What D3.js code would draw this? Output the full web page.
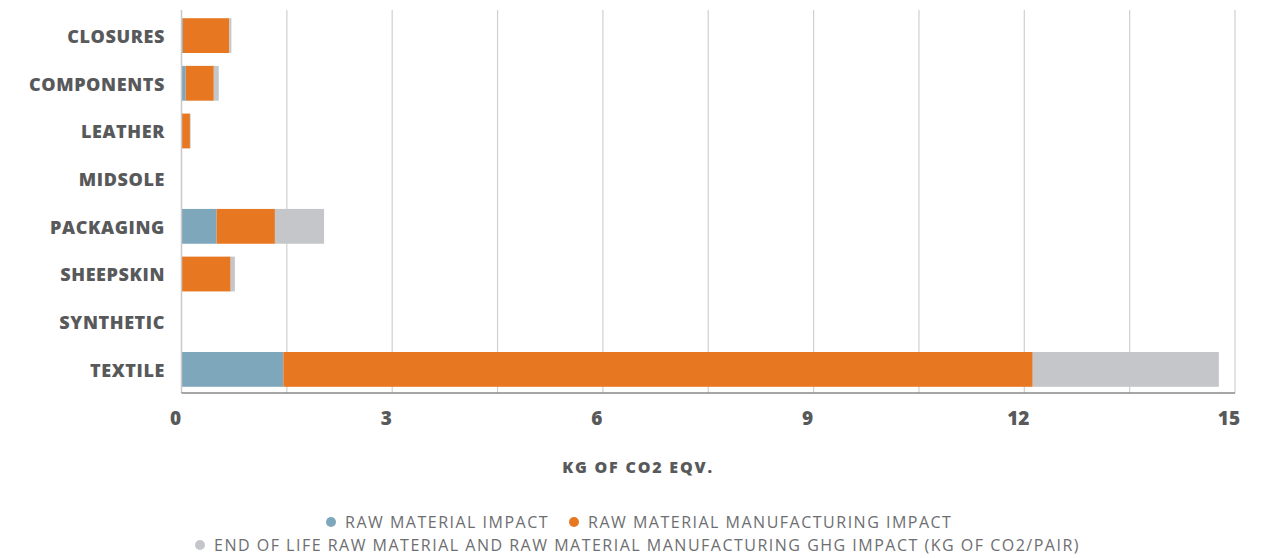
<!DOCTYPE html>
<meta charset="utf-8">
<style>
body { margin: 0; background: #fff; }
text { font-family: "Open Sans", sans-serif; }
.cat { font-weight: 800; font-size: 18px; fill: #58595b; letter-spacing: 0.6px; }
.tick-lab { font-weight: 800; font-size: 19px; fill: #58595b; }
.title { font-weight: 800; font-size: 16px; fill: #58595b; letter-spacing: 1.8px; }
.leg { font-size: 16px; fill: #6d6e71; letter-spacing: 1.5px; }
</style>
<svg width="1268" height="558"></svg>
<script src="https://d3js.org/d3.v7.min.js"></script>
<script>

var categories = ["CLOSURES", "COMPONENTS", "LEATHER", "MIDSOLE", "PACKAGING", "SHEEPSKIN", "SYNTHETIC", "TEXTILE"];
var rawMaterial   = [0.02, 0.06, 0.00, 0.000, 0.50, 0.00, 0, 1.45];
var manufacturing = [0.66, 0.40, 0.12, 0.006, 0.83, 0.70, 0, 10.67];
var endOfLife     = [0.03, 0.07, 0.01, 0.000, 0.70, 0.06, 0, 2.65];
var seriesNames = ["RAW MATERIAL IMPACT", "RAW MATERIAL MANUFACTURING IMPACT",
  "END OF LIFE RAW MATERIAL AND RAW MATERIAL MANUFACTURING GHG IMPACT (KG OF CO2/PAIR)"];
var colors = ["#7ea7bb", "#e87722", "#c5c6c9"];
var xTicks = [0, 3, 6, 9, 12, 15];

var svg = d3.select("svg");
var plotLeft = 181.5, plotRight = 1235, plotTop = 12, plotBottom = 393;

var x = d3.scaleLinear().domain([0, 15]).range([plotLeft, plotRight]);
var y = d3.scaleBand().domain(categories).range([plotTop, plotBottom]).paddingInner(0.27).paddingOuter(0.13);

// gridlines every 1.5
svg.append("g").selectAll("line")
  .data(d3.range(1.5, 15.01, 1.5))
  .join("line")
    .attr("x1", d => x(d)).attr("x2", d => x(d))
    .attr("y1", 10).attr("y2", plotBottom)
    .attr("stroke", "#d0d0d0").attr("stroke-width", 1.2);

// stacked data
var rows = categories.map((c, i) => ({cat: c, v: [rawMaterial[i], manufacturing[i], endOfLife[i]]}));
rows.forEach(function(r) {
  var acc = 0;
  r.segs = r.v.map(function(v, k) { var s = {x0: acc, x1: acc + v, k: k}; acc += v; return s; });
});

var bars = svg.append("g").selectAll("g").data(rows).join("g")
  .attr("transform", d => "translate(0," + y(d.cat) + ")");
bars.selectAll("rect").data(d => d.segs).join("rect")
  .attr("x", d => x(d.x0))
  .attr("width", d => Math.max(0, x(d.x1) - x(d.x0)))
  .attr("height", y.bandwidth())
  .attr("fill", d => colors[d.k]);

// axes lines
svg.append("line").attr("x1", plotLeft).attr("x2", plotLeft).attr("y1", 10).attr("y2", plotBottom)
  .attr("stroke", "#c8c8c8").attr("stroke-width", 1.5);
svg.append("line").attr("x1", plotLeft).attr("x2", plotRight).attr("y1", plotBottom).attr("y2", plotBottom)
  .attr("stroke", "#888").attr("stroke-width", 1.5);

// category labels
svg.append("g").selectAll("text").data(categories).join("text")
  .attr("class", "cat")
  .attr("x", 165)
  .attr("y", d => y(d) + y.bandwidth() / 2 + 1)
  .attr("dy", "0.35em")
  .attr("text-anchor", "end")
  .text(d => d);

// tick labels
svg.append("g").selectAll("text").data(xTicks).join("text")
  .attr("class", "tick-lab")
  .attr("x", d => x(d) - 6)
  .attr("y", 425)
  .attr("text-anchor", "middle")
  .text(d => d);

svg.append("text").attr("class", "title")
  .attr("x", 638).attr("y", 473)
  .attr("text-anchor", "middle")
  .text("KG OF CO2 EQV.");

// legend
var l1 = svg.append("g");
var item0 = l1.append("g");
item0.append("circle").attr("cx", 331).attr("cy", 522).attr("r", 5).attr("fill", colors[0]);
item0.append("text").attr("class", "leg").attr("x", 345).attr("y", 527.5).text(seriesNames[0]);
var item1 = l1.append("g");
item1.append("circle").attr("cx", 574).attr("cy", 522).attr("r", 5).attr("fill", colors[1]);
item1.append("text").attr("class", "leg").attr("x", 588).attr("y", 527.5).text(seriesNames[1]);
var item2 = svg.append("g");
item2.append("circle").attr("cx", 200).attr("cy", 545).attr("r", 5).attr("fill", colors[2]);
item2.append("text").attr("class", "leg").attr("x", 214).attr("y", 550.5).text(seriesNames[2]);

</script>
